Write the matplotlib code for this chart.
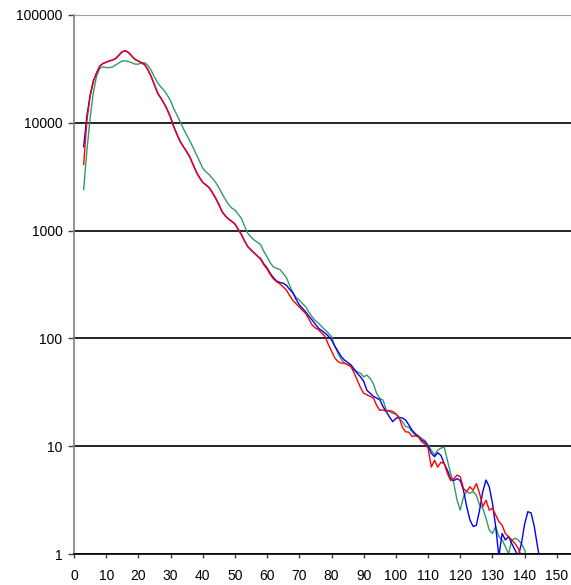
import matplotlib
matplotlib.use('Agg')
import matplotlib.pyplot as plt
from matplotlib.ticker import FixedLocator, FixedFormatter, NullLocator
import numpy as np

# categorías (eje x)
x_start = 3

# serie roja
rojo = [4100, 10500, 17500, 24000, 29000, 33500, 35500, 36500, 37500, 38200,
        39600, 42500, 45700, 46600, 44700, 41500, 38700, 37400, 36000, 34500,
        30900, 26800, 22400, 18800, 16900, 15100, 13200, 11200, 9200, 7800,
        6700, 6000, 5400, 4800, 4100, 3500, 3100, 2800, 2650, 2500,
        2250, 2000, 1750, 1500, 1370, 1280, 1220, 1150, 1030, 920,
        800, 710, 660, 620, 580, 540, 480, 440, 390, 355,
        335, 320, 300, 280, 250, 225, 210, 195, 182, 170,
        150, 133, 125, 120, 112, 104, 88, 76, 66, 61,
        59, 59, 57, 55, 48, 41, 35, 31, 30, 29,
        28, 24, 21.5, 21.7, 21, 21.5, 21, 20, 18.5, 15,
        13.6, 13.5, 12.3, 12.5, 12.2, 11, 10.5, 9.6, 6.4, 7.4,
        6.4, 7.1, 6.9, 5.6, 4.8, 5.0, 5.4, 5.2, 4.05, 3.8,
        4.2, 3.9, 4.5, 3.65, 2.75, 3.16, 2.55, 2.65, 2.3, 2.0,
        1.85, 1.55, 1.45, 1.35, 1.25, 1.13, 0.95, 0.7]

# serie azul
azul = [6000, 11500, 18000, 24500, 29000, 33500, 35500, 36500, 37500, 38200,
        39600, 42500, 45700, 46600, 44700, 41500, 38700, 37400, 36000, 34500,
        30900, 26800, 22400, 18800, 16900, 15100, 13200, 11200, 9200, 7800,
        6700, 6000, 5400, 4800, 4100, 3500, 3100, 2800, 2650, 2500,
        2250, 2000, 1750, 1500, 1370, 1280, 1220, 1150, 1030, 920,
        800, 710, 660, 620, 580, 550, 490, 450, 400, 365,
        340, 330, 325, 310, 285, 265, 230, 205, 190, 176,
        160, 148, 135, 124, 118, 112, 105, 97, 85, 76,
        68, 63, 60, 57, 52, 47.5, 44, 40, 33, 31,
        29, 28, 27, 23.3, 21, 18.7, 16.9, 18.1, 18.5, 18.3,
        17.5, 15.8, 14.1, 13.1, 12.3, 11.4, 11, 10, 8.6, 8.0,
        8.7, 8.2, 6.9, 6.0, 5.0, 4.8, 5.0, 4.8, 3.9, 2.75,
        2.07, 1.8, 1.85, 2.55, 3.8, 4.85, 4.2, 2.95, 1.8, 0.95,
        1.55, 1.35, 1.45, 1.25, 1.09, 0.95, 1.25, 1.9, 2.47, 2.4,
        1.8, 1.17, 0.8]

# serie verde
verde = [2400, 5500, 11000, 19000, 27000, 32000, 33000, 32500, 32500, 33000,
         34500, 36000, 37500, 37500, 37000, 36000, 35000, 35000, 36000, 36000,
         34000, 30500, 26500, 23500, 21500, 20000, 18000, 16000, 13500, 11800,
         10200, 8800, 7700, 6800, 5900, 5100, 4400, 3800, 3500, 3300,
         3050, 2800, 2500, 2200, 1950, 1750, 1620, 1550, 1420, 1300,
         1100, 940, 870, 815, 780, 740, 640, 570, 500, 460,
         445, 435, 400, 365, 310, 265, 240, 227, 210, 196,
         175, 158, 146, 138, 128, 120, 112, 104, 85, 73,
         64, 59, 57, 55, 51, 49, 47.5, 44, 45.7, 42.5,
         38, 31, 27.8, 26.8, 21.7, 21, 20.2, 19.8, 18.1, 16.9,
         15.2, 15, 13.6, 12.7, 12.5, 11.8, 11.3, 10.2, 9.2, 8.3,
         9.2, 9.6, 9.8, 7.4, 5.6, 4.5, 3.16, 2.55, 3.4, 3.8,
         3.65, 3.8, 3.5, 2.85, 2.65, 2.14, 1.67, 1.55, 1.8, 1.45,
         1.35, 1.17, 1.0, 1.35, 1.4, 1.35, 1.25, 1.09, 0.85]

y_ticks = [1, 10, 100, 1000, 10000, 100000]
y_labels = ['1', '10', '100', '1000', '10000', '100000']
x_ticks = np.arange(0, 151, 10)

plt.rcParams['font.family'] = ['Liberation Sans', 'DejaVu Sans']

fig = plt.figure(figsize=(5.71, 5.85), dpi=100)
ax = fig.add_axes([74 / 571, 1 - 554 / 585, 1 - 74 / 571, (554 - 15) / 585])

# verde abajo, luego azul, rojo arriba
for serie, color in [(verde, '#339966'), (azul, '#0000FF'), (rojo, '#FF0000')]:
    xs = np.arange(x_start, x_start + len(serie))
    ax.plot(xs, serie, color=color, linewidth=1.0)

ax.set_yscale('log')
ax.set_ylim(1, 100000)
ax.set_xlim(0, 154.4)

ax.yaxis.set_major_locator(FixedLocator(y_ticks))
ax.yaxis.set_major_formatter(FixedFormatter(y_labels))
ax.yaxis.set_minor_locator(NullLocator())
ax.set_xticks(x_ticks)

ax.grid(True, axis='y', color='black', linewidth=1.2)
ax.set_axisbelow(True)

ax.spines['right'].set_visible(False)
ax.spines['top'].set_color('#a0a0a0')
ax.spines['left'].set_color('#808080')
ax.spines['left'].set_linewidth(1.2)
ax.spines['bottom'].set_color('black')
ax.spines['bottom'].set_linewidth(1.2)

ax.tick_params(axis='y', direction='out', length=4.3, width=1, color='#404040',
               pad=4, labelsize=10)
ax.tick_params(axis='x', direction='out', length=3, width=1, color='#404040',
               pad=8, labelsize=10)

fig.savefig('out.png', dpi=100)
